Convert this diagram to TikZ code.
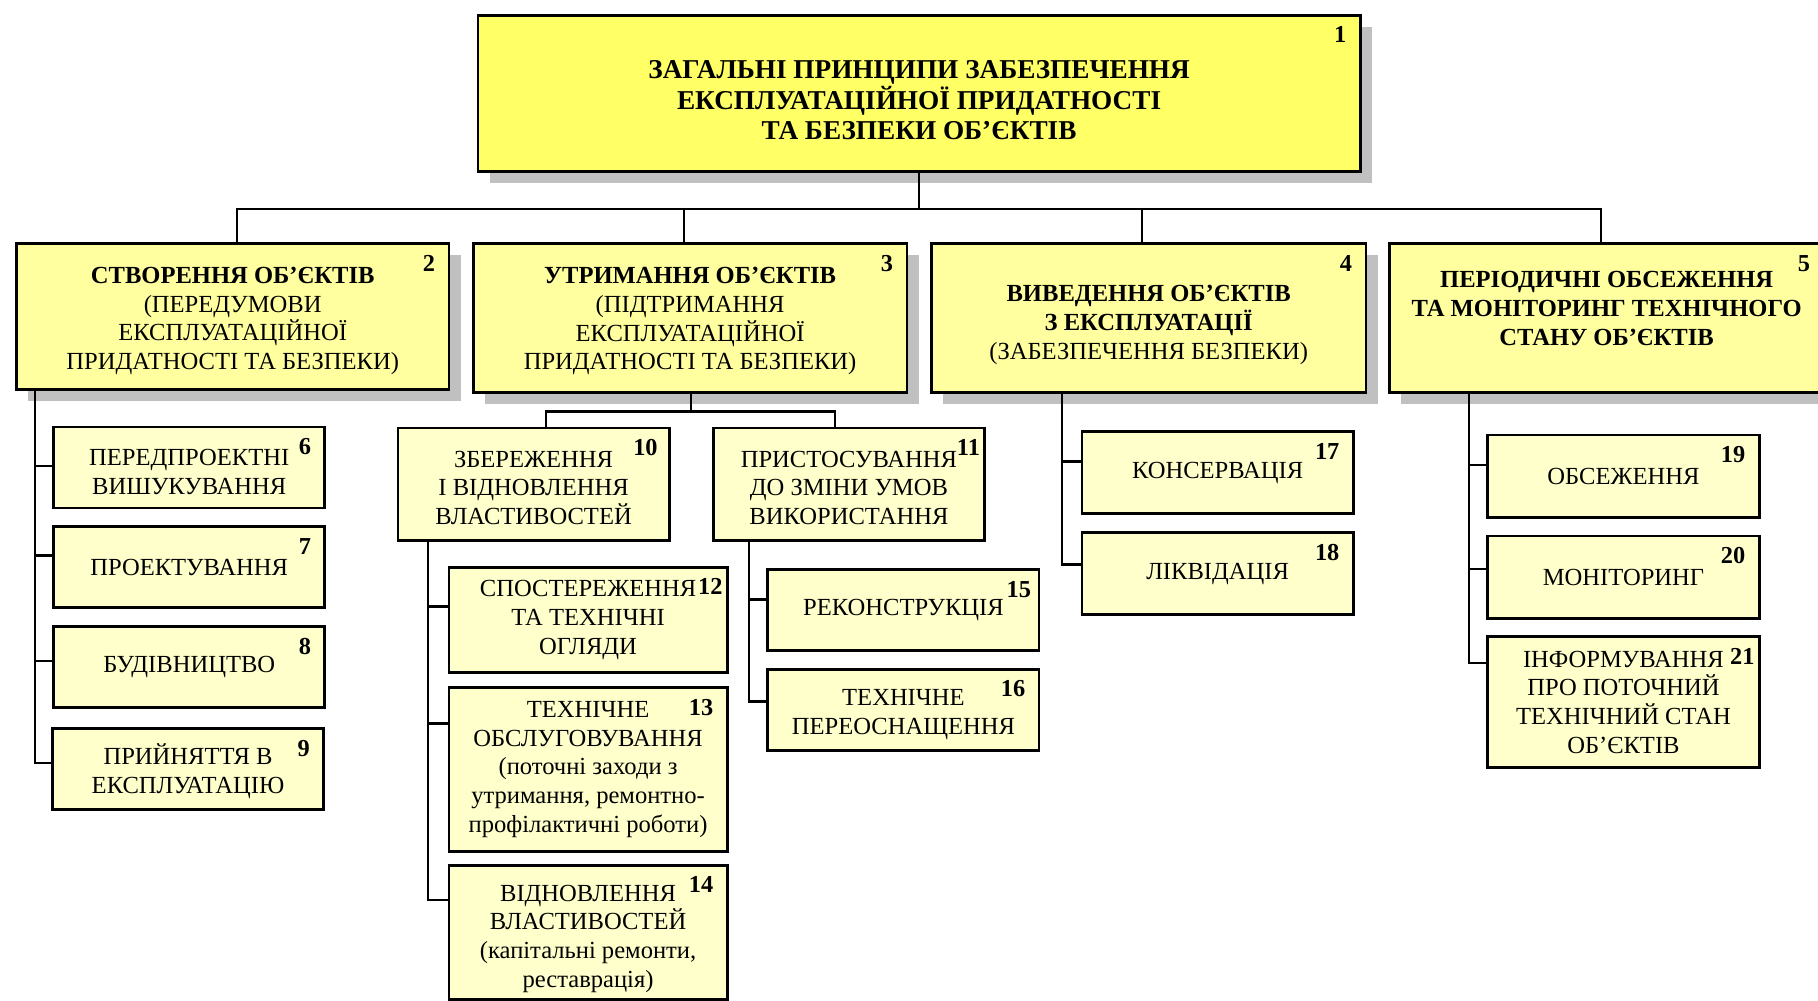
\documentclass[tikz,border=0pt]{standalone}
\usepackage{fontspec}
\setmainfont{Liberation Serif}
\usetikzlibrary{calc,shadows}
\definecolor{ytop}{RGB}{255,255,102}
\definecolor{ymid}{RGB}{255,255,160}
\definecolor{ylow}{RGB}{255,255,204}
\definecolor{shadowgray}{RGB}{192,192,192}
\tikzset{
  box/.style={draw=black, line width=2.4pt, align=center, inner sep=0pt, anchor=north west,
    font={\fontsize{21.2}{24.7}\selectfont}},
  shad/.style={drop shadow={opacity=1, fill=shadowgray, shadow xshift=10pt, shadow yshift=-10pt}},
  topbox/.style={box, fill=ytop, shad, font={\bfseries\fontsize{23.5}{26.5}\selectfont}},
  mainbox/.style={box, fill=ymid, shad},
  subbox/.style={box, fill=ylow},
  num/.style={font={\bfseries\fontsize{21}{24}\selectfont}, inner sep=0pt, anchor=north east},
  link/.style={draw=black, line width=2pt},
}
\begin{document}
\begin{tikzpicture}[x=1pt,y=-1pt]
\useasboundingbox (0,0) rectangle (1568,863);
\clip (0,0) rectangle (1568,863);
\fill[white] (0,0) rectangle (1568,863);

% level 1
\node[topbox, minimum width=761pt, minimum height=135pt] (b1) at (411,12)
  {\rule{0pt}{27pt}ЗАГАЛЬНІ ПРИНЦИПИ ЗАБЕЗПЕЧЕННЯ\\ЕКСПЛУАТАЦІЙНОЇ ПРИДАТНОСТІ\\ТА БЕЗПЕКИ ОБ’ЄКТІВ};

% level 2
\node[mainbox, minimum width=373pt, minimum height=126pt] (b2) at (13,209)
  {\rule{0pt}{21pt}{\bfseries СТВОРЕННЯ ОБ’ЄКТІВ}\\(ПЕРЕДУМОВИ\\ЕКСПЛУАТАЦІЙНОЇ\\ПРИДАТНОСТІ ТА БЕЗПЕКИ)};
\node[mainbox, minimum width=374pt, minimum height=128pt] (b3) at (407,209)
  {\rule{0pt}{20pt}{\bfseries УТРИМАННЯ ОБ’ЄКТІВ}\\(ПІДТРИМАННЯ\\ЕКСПЛУАТАЦІЙНОЇ\\ПРИДАТНОСТІ ТА БЕЗПЕКИ)};
\node[mainbox, minimum width=375pt, minimum height=128pt] (b4) at (802,209)
  {\rule{0pt}{26pt}{\bfseries ВИВЕДЕННЯ ОБ’ЄКТІВ}\\{\bfseries З ЕКСПЛУАТАЦІЇ}\\(ЗАБЕЗПЕЧЕННЯ БЕЗПЕКИ)};
\node[mainbox, minimum width=375pt, minimum height=128pt, font={\bfseries\fontsize{21.2}{25}\selectfont}] (b5) at (1197,209)
  {ПЕРІОДИЧНІ ОБСЕЖЕННЯ\\ТА МОНІТОРИНГ ТЕХНІЧНОГО\\СТАНУ ОБ’ЄКТІВ\rule[-16pt]{0pt}{16pt}};

% level 3
\node[subbox, minimum width=234pt, minimum height=70pt] (b6) at (45,367) {\rule{0pt}{22pt}ПЕРЕДПРОЕКТНІ\\ВИШУКУВАННЯ};
\node[subbox, minimum width=234pt, minimum height=70pt] (b7) at (45,453) {ПРОЕКТУВАННЯ};
\node[subbox, minimum width=234pt, minimum height=70pt] (b8) at (45,539) {БУДІВНИЦТВО};
\node[subbox, minimum width=234pt, minimum height=70pt] (b9) at (44,627) {\rule{0pt}{22pt}ПРИЙНЯТТЯ В\\ЕКСПЛУАТАЦІЮ};

\node[subbox, minimum width=234pt, minimum height=97pt] (b10) at (342,368) {\rule{0pt}{20pt}ЗБЕРЕЖЕННЯ\\І ВІДНОВЛЕННЯ\\ВЛАСТИВОСТЕЙ};
\node[subbox, minimum width=234pt, minimum height=97pt] (b11) at (614,368) {\rule{0pt}{20pt}ПРИСТОСУВАННЯ\\ДО ЗМІНИ УМОВ\\ВИКОРИСТАННЯ};

\node[subbox, minimum width=240pt, minimum height=91pt] (b12) at (386,488) {СПОСТЕРЕЖЕННЯ\\ТА ТЕХНІЧНІ\\ОГЛЯДИ};
\node[subbox, minimum width=240pt, minimum height=141pt] (b13) at (386,592)
  {ТЕХНІЧНЕ\\ОБСЛУГОВУВАННЯ\\(поточні заходи з\\утримання, ремонтно-\\профілактичні роботи)};
\node[subbox, minimum width=240pt, minimum height=116pt] (b14) at (386,745)
  {\rule{0pt}{25pt}ВІДНОВЛЕННЯ\\ВЛАСТИВОСТЕЙ\\(капітальні ремонти,\\реставрація)};

\node[subbox, minimum width=234pt, minimum height=70pt] (b15) at (661,490) {РЕКОНСТРУКЦІЯ};
\node[subbox, minimum width=234pt, minimum height=70pt] (b16) at (661,576) {\rule{0pt}{22pt}ТЕХНІЧНЕ\\ПЕРЕОСНАЩЕННЯ};

\node[subbox, minimum width=234pt, minimum height=71pt] (b17) at (932,371) {КОНСЕРВАЦІЯ};
\node[subbox, minimum width=234pt, minimum height=71pt] (b18) at (932,458) {ЛІКВІДАЦІЯ};

\node[subbox, minimum width=234pt, minimum height=71pt] (b19) at (1282,374) {ОБСЕЖЕННЯ};
\node[subbox, minimum width=234pt, minimum height=71pt] (b20) at (1282,461) {МОНІТОРИНГ};
\node[subbox, minimum width=234pt, minimum height=113pt] (b21) at (1282,548) {ІНФОРМУВАННЯ\\ПРО ПОТОЧНИЙ\\ТЕХНІЧНИЙ СТАН\\ОБ’ЄКТІВ};

% numbers
\foreach \i/\dx in {1/-13,2/-13,3/-13,4/-13,5/-13,6/-13,7/-13,8/-13,9/-13,10/-11,
                    11/-5,12/-5,13/-13,14/-13,15/-8,16/-13,17/-13,18/-13,19/-13,20/-13,21/-5} {
  \node[num] (n\i) at ($(b\i.north east)+(\dx,11)$) {\i};
}

% connectors level 1 -> 2
\coordinate (bus) at (0,180);
\coordinate (d2) at ($(b2.north)+(4,0)$);
\coordinate (d3) at ($(b3.north)+(-5,0)$);
\coordinate (d4) at ($(b4.north)+(-6,0)$);
\coordinate (d5) at ($(b5.north)+(-5,0)$);
\draw[link] (b1.south) -- (b1.south |- bus);
\draw[link] (d2) -- (d2 |- bus) -- (d5 |- bus) -- (d5);
\draw[link] (d3) -- (d3 |- bus);
\draw[link] (d4) -- (d4 |- bus);

% box 2 children
\coordinate (v2) at ($(b2.south west)+(17,0)$);
\coordinate (s6) at ($(b6.north west)+(0,35)$);
\coordinate (s7) at ($(b7.north west)+(0,26)$);
\coordinate (s8) at ($(b8.north west)+(0,31)$);
\coordinate (s9) at ($(b9.north west)+(0,31)$);
\draw[link] (v2) |- (s9);
\draw[link] (v2 |- s6) -- (s6);
\draw[link] (v2 |- s7) -- (s7);
\draw[link] (v2 |- s8) -- (s8);

% box 3 children
\coordinate (bus3) at (0,355);
\coordinate (t3) at ($(b3.south)+(1,0)$);
\coordinate (t10) at ($(b10.north)+(11,0)$);
\coordinate (t11) at ($(b11.north)+(-12,0)$);
\draw[link] (t3) -- (t3 |- bus3);
\draw[link] (t10) -- (t10 |- bus3) -- (t11 |- bus3) -- (t11);

% box 10 children
\coordinate (v10) at ($(b10.south west)+(27,0)$);
\coordinate (s12) at ($(b12.north west)+(0,35)$);
\coordinate (s13) at ($(b13.north west)+(0,32)$);
\coordinate (s14) at ($(b14.north west)+(0,31)$);
\draw[link] (v10) |- (s14);
\draw[link] (v10 |- s12) -- (s12);
\draw[link] (v10 |- s13) -- (s13);

% box 11 children
\coordinate (v11) at ($(b11.south west)+(32,0)$);
\coordinate (s15) at ($(b15.north west)+(0,27)$);
\coordinate (s16) at ($(b16.north west)+(0,29)$);
\draw[link] (v11) |- (s16);
\draw[link] (v11 |- s15) -- (s15);

% box 4 children
\coordinate (v4) at ($(b4.south west)+(114,0)$);
\coordinate (s17) at ($(b17.north west)+(0,27)$);
\coordinate (s18) at ($(b18.north west)+(0,29)$);
\draw[link] (v4) |- (s18);
\draw[link] (v4 |- s17) -- (s17);

% box 5 children
\coordinate (v5) at ($(b5.south west)+(70,0)$);
\coordinate (s19) at ($(b19.north west)+(0,27)$);
\coordinate (s20) at ($(b20.north west)+(0,30)$);
\coordinate (s21) at ($(b21.north west)+(0,24)$);
\draw[link] (v5) |- (s21);
\draw[link] (v5 |- s19) -- (s19);
\draw[link] (v5 |- s20) -- (s20);
\end{tikzpicture}
\end{document}
